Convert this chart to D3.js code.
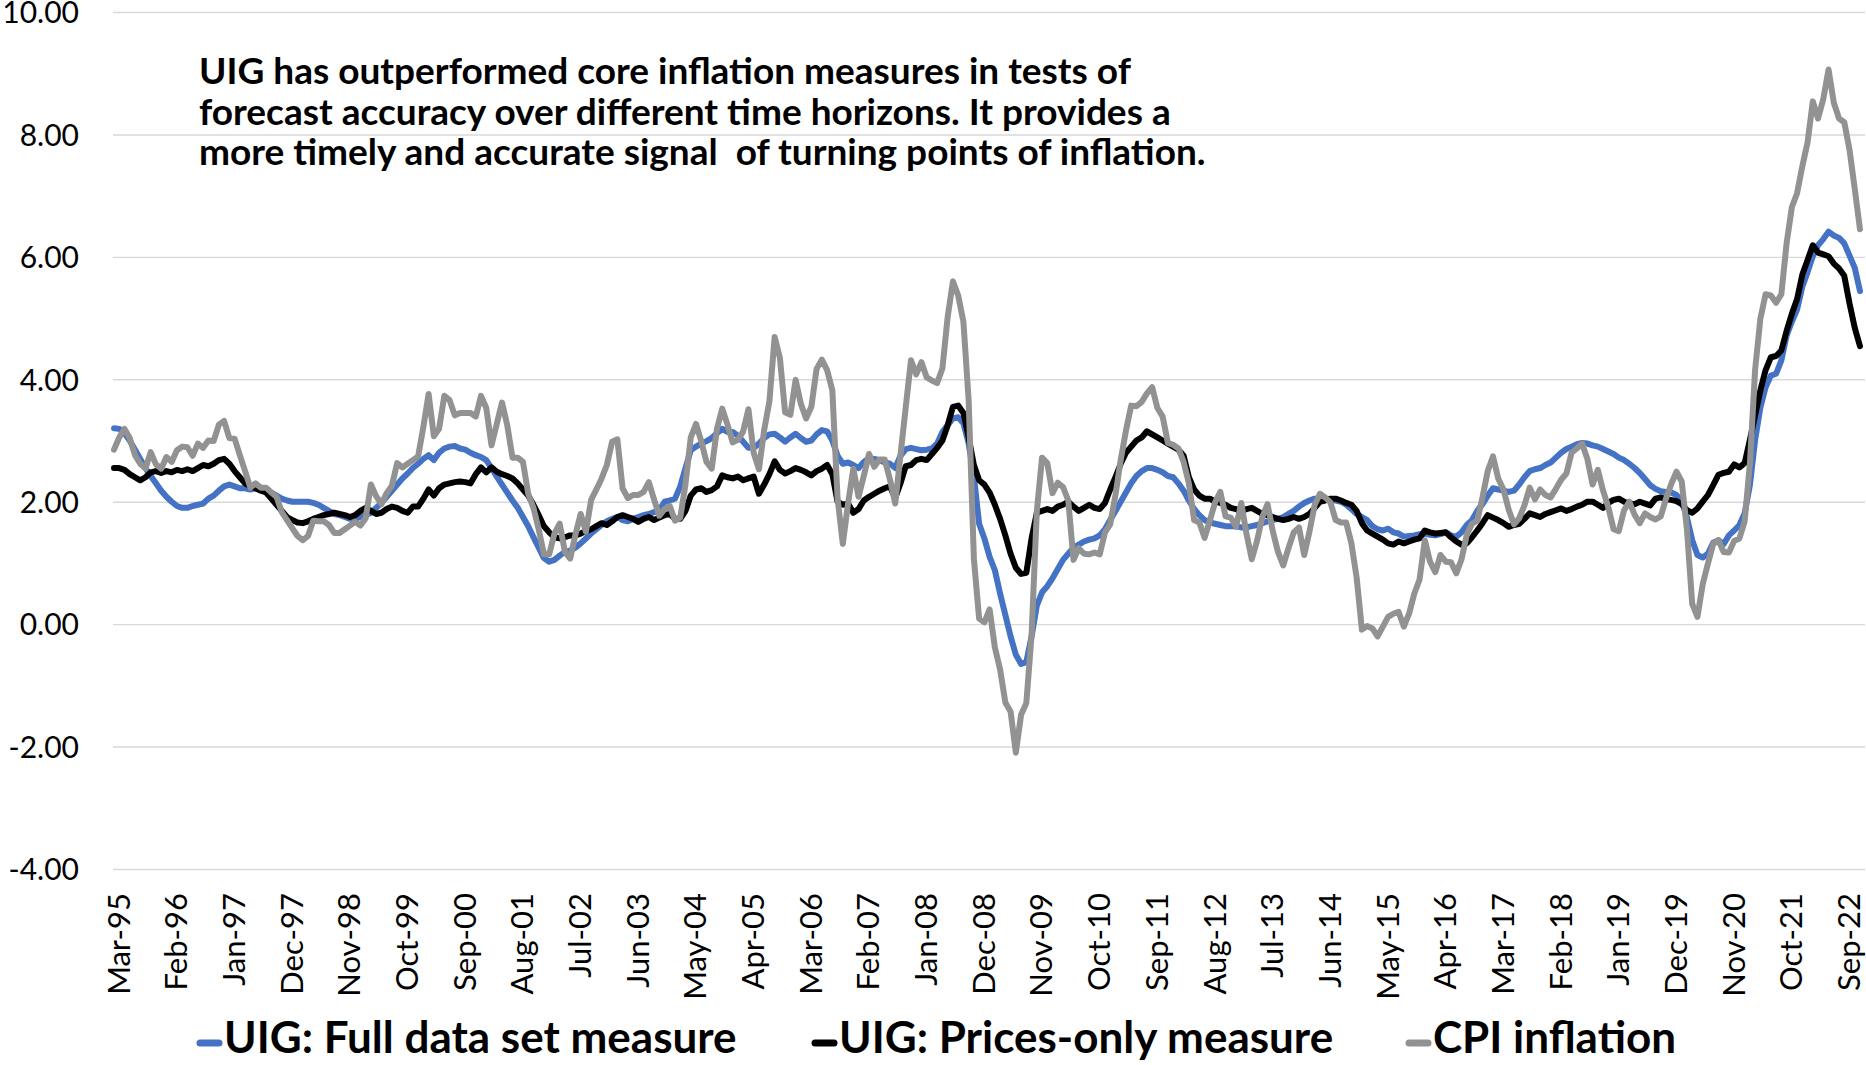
<!DOCTYPE html>
<html>
  <head>
    <meta charset="utf-8">
    <title>UIG vs CPI inflation</title>
    <style media="screen">
      body {
        margin: 0;
        background: #fff;
      }
      text {
        font-family: Lato, 'Open Sans', sans-serif;
      }
    </style>
    <script src="https://cdnjs.cloudflare.com/ajax/libs/d3/7.8.5/d3.min.js"></script>
  </head>
  <body>
    <div id="chart"></div>
  <script type="text/javascript">
  // monthly, Mar-95 .. Dec-22 (one row per calendar year)
  var uigFull = [
    3.20, 3.19, 3.12, 3.00, 2.85, 2.70, 2.55, 2.42, 2.30, 2.18,
    2.08, 2.00, 1.93, 1.90, 1.90, 1.93, 1.95, 1.97, 2.05, 2.10, 2.18, 2.25,
    2.28, 2.25, 2.22, 2.22, 2.20, 2.22, 2.20, 2.18, 2.15, 2.10, 2.05, 2.02,
    2.00, 2.00, 2.00, 2.00, 1.98, 1.95, 1.90, 1.85, 1.80, 1.78, 1.75, 1.72,
    1.72, 1.75, 1.78, 1.82, 1.90, 1.98, 2.08, 2.18, 2.28, 2.38, 2.46, 2.55,
    2.62, 2.70, 2.76, 2.68, 2.80, 2.87, 2.90, 2.91, 2.87, 2.85, 2.80, 2.76,
    2.73, 2.68, 2.55, 2.41, 2.28, 2.15, 2.02, 1.90, 1.75, 1.60, 1.42, 1.25,
    1.08, 1.02, 1.05, 1.12, 1.18, 1.20, 1.25, 1.32, 1.40, 1.48, 1.55, 1.62,
    1.68, 1.72, 1.75, 1.70, 1.68, 1.72, 1.75, 1.78, 1.80, 1.83, 1.86, 2.00,
    2.02, 2.05, 2.25, 2.55, 2.84, 2.90, 2.95, 2.99, 3.04, 3.12, 3.19, 3.14,
    3.14, 3.08, 2.98, 2.88, 2.88, 2.95, 3.04, 3.10, 3.11, 3.05, 2.98, 3.05,
    3.11, 3.04, 2.98, 3.00, 3.10, 3.17, 3.15, 3.00, 2.75, 2.62, 2.64, 2.60,
    2.55, 2.65, 2.71, 2.70, 2.68, 2.64, 2.62, 2.55, 2.75, 2.86, 2.88, 2.86,
    2.84, 2.85, 2.87, 2.95, 3.14, 3.25, 3.36, 3.38, 3.28, 2.95, 2.41, 1.64,
    1.40, 1.10, 0.88, 0.50, 0.15, -0.20, -0.50, -0.65, -0.62, -0.20, 0.30, 0.52,
    0.62, 0.75, 0.90, 1.05, 1.15, 1.25, 1.30, 1.35, 1.38, 1.40, 1.45, 1.55,
    1.70, 1.85, 2.00, 2.15, 2.30, 2.42, 2.50, 2.55, 2.55, 2.52, 2.48, 2.42,
    2.40, 2.30, 2.18, 2.02, 1.88, 1.78, 1.70, 1.66, 1.64, 1.62, 1.60, 1.60,
    1.60, 1.58, 1.58, 1.60, 1.62, 1.65, 1.68, 1.70, 1.72, 1.75, 1.80, 1.85,
    1.92, 1.98, 2.02, 2.05, 2.05, 2.05, 2.03, 2.02, 2.00, 1.95, 1.88, 1.80,
    1.75, 1.70, 1.60, 1.55, 1.53, 1.56, 1.50, 1.48, 1.43, 1.44, 1.45, 1.47,
    1.48, 1.46, 1.45, 1.47, 1.50, 1.45, 1.43, 1.50, 1.62, 1.70, 1.85, 1.96,
    2.10, 2.22, 2.20, 2.18, 2.16, 2.18, 2.28, 2.40, 2.50, 2.53, 2.55, 2.60,
    2.64, 2.72, 2.80, 2.86, 2.90, 2.94, 2.96, 2.95, 2.92, 2.90, 2.86, 2.82,
    2.78, 2.72, 2.68, 2.62, 2.55, 2.47, 2.37, 2.27, 2.21, 2.17, 2.16, 2.15,
    2.11, 2.01, 1.74, 1.37, 1.13, 1.09, 1.15, 1.33, 1.37, 1.31, 1.45, 1.53,
    1.62, 1.81, 2.27, 3.01, 3.54, 3.87, 4.06, 4.09, 4.31, 4.71, 4.94, 5.14,
    5.51, 5.75, 6.01, 6.19, 6.29, 6.41, 6.35, 6.31, 6.22, 6.02, 5.82, 5.44
  ];
  var uigPrices = [
    2.55, 2.55, 2.52, 2.45, 2.40, 2.35, 2.40, 2.48, 2.50, 2.47,
    2.50, 2.48, 2.52, 2.50, 2.53, 2.50, 2.55, 2.60, 2.58, 2.62, 2.68, 2.70,
    2.62, 2.50, 2.40, 2.30, 2.25, 2.22, 2.18, 2.15, 2.05, 1.95, 1.85, 1.75,
    1.70, 1.66, 1.65, 1.68, 1.72, 1.75, 1.78, 1.80, 1.82, 1.80, 1.78, 1.75,
    1.78, 1.85, 1.90, 1.85, 1.80, 1.82, 1.88, 1.92, 1.90, 1.85, 1.82, 1.92,
    1.92, 2.05, 2.20, 2.10, 2.22, 2.28, 2.30, 2.32, 2.33, 2.32, 2.30, 2.45,
    2.56, 2.48, 2.56, 2.49, 2.45, 2.42, 2.38, 2.30, 2.20, 2.10, 1.95, 1.78,
    1.60, 1.50, 1.42, 1.40, 1.42, 1.45, 1.45, 1.48, 1.52, 1.55, 1.60, 1.65,
    1.62, 1.68, 1.75, 1.78, 1.75, 1.72, 1.67, 1.72, 1.75, 1.70, 1.74, 1.78,
    1.80, 1.72, 1.72, 1.85, 2.10, 2.20, 2.22, 2.16, 2.19, 2.25, 2.43, 2.40,
    2.38, 2.41, 2.35, 2.38, 2.41, 2.13, 2.28, 2.45, 2.66, 2.52, 2.46, 2.50,
    2.55, 2.52, 2.48, 2.43, 2.50, 2.54, 2.60, 2.45, 2.00, 1.95, 1.97, 1.82,
    1.88, 2.02, 2.08, 2.13, 2.18, 2.22, 2.25, 2.06, 2.30, 2.58, 2.60, 2.68,
    2.70, 2.68, 2.78, 2.88, 3.00, 3.25, 3.55, 3.57, 3.45, 3.05, 2.60, 2.35,
    2.28, 2.15, 1.95, 1.72, 1.45, 1.15, 0.92, 0.82, 0.84, 1.40, 1.82, 1.85,
    1.88, 1.85, 1.92, 1.95, 2.00, 1.92, 1.85, 1.90, 1.95, 1.90, 1.88, 1.98,
    2.20, 2.40, 2.62, 2.80, 2.90, 3.00, 3.05, 3.15, 3.10, 3.05, 3.00, 2.95,
    2.90, 2.85, 2.75, 2.40, 2.20, 2.10, 2.05, 2.05, 2.00, 1.98, 1.95, 1.90,
    1.88, 1.85, 1.88, 1.90, 1.85, 1.80, 1.78, 1.75, 1.72, 1.70, 1.72, 1.75,
    1.72, 1.75, 1.80, 1.90, 2.00, 2.02, 2.05, 2.05, 2.02, 1.98, 1.95, 1.85,
    1.65, 1.53, 1.48, 1.43, 1.38, 1.32, 1.30, 1.35, 1.32, 1.35, 1.38, 1.40,
    1.53, 1.50, 1.48, 1.49, 1.50, 1.42, 1.35, 1.30, 1.32, 1.42, 1.53, 1.65,
    1.78, 1.74, 1.70, 1.65, 1.59, 1.62, 1.64, 1.72, 1.81, 1.78, 1.75, 1.80,
    1.83, 1.86, 1.89, 1.85, 1.88, 1.92, 1.95, 2.00, 2.00, 1.95, 1.90, 1.98,
    2.03, 2.05, 2.00, 1.97, 1.96, 2.00, 1.97, 1.94, 2.05, 2.07, 2.04, 2.03,
    2.01, 1.96, 1.86, 1.82, 1.89, 2.00, 2.11, 2.27, 2.44, 2.47, 2.49, 2.61,
    2.56, 2.63, 3.01, 3.41, 3.82, 4.15, 4.36, 4.38, 4.47, 4.79, 5.07, 5.31,
    5.71, 5.95, 6.19, 6.07, 6.04, 6.01, 5.89, 5.81, 5.69, 5.24, 4.84, 4.54
  ];
  var cpiInflation = [
    2.85, 3.05, 3.19, 3.04, 2.76, 2.62, 2.54, 2.81, 2.61, 2.54,
    2.73, 2.65, 2.84, 2.90, 2.89, 2.75, 2.95, 2.88, 3.00, 2.99, 3.26, 3.32,
    3.04, 3.03, 2.76, 2.50, 2.23, 2.30, 2.23, 2.23, 2.15, 2.08, 1.83, 1.70,
    1.57, 1.44, 1.37, 1.44, 1.69, 1.68, 1.68, 1.62, 1.49, 1.49, 1.55, 1.61,
    1.67, 1.61, 1.73, 2.28, 2.09, 1.96, 2.14, 2.26, 2.63, 2.56, 2.62, 2.68,
    2.74, 3.22, 3.76, 3.07, 3.19, 3.73, 3.66, 3.41, 3.45, 3.45, 3.45, 3.39,
    3.73, 3.53, 2.92, 3.27, 3.62, 3.25, 2.72, 2.72, 2.65, 2.13, 1.90, 1.55,
    1.14, 1.14, 1.48, 1.64, 1.18, 1.07, 1.46, 1.80, 1.51, 2.03, 2.20, 2.38,
    2.60, 2.98, 3.02, 2.22, 2.06, 2.11, 2.11, 2.16, 2.32, 2.04, 1.77, 1.88,
    1.93, 1.69, 1.74, 2.29, 3.05, 3.27, 2.99, 2.65, 2.54, 3.19, 3.52, 3.26,
    2.97, 3.01, 3.15, 3.51, 2.80, 2.53, 3.17, 3.64, 4.69, 4.35, 3.46, 3.42,
    3.99, 3.60, 3.36, 3.55, 4.17, 4.32, 4.15, 3.82, 2.06, 1.31, 1.97, 2.54,
    2.08, 2.42, 2.78, 2.57, 2.69, 2.69, 2.36, 1.97, 2.76, 3.54, 4.31, 4.08,
    4.28, 4.03, 3.98, 3.94, 4.18, 5.02, 5.60, 5.37, 4.94, 3.66, 1.07, 0.09,
    0.03, 0.24, -0.38, -0.74, -1.28, -1.43, -2.10, -1.48, -1.29, -0.18, 1.84, 2.72,
    2.63, 2.14, 2.31, 2.24, 2.02, 1.05, 1.24, 1.15, 1.14, 1.17, 1.14, 1.50,
    1.63, 2.11, 2.68, 3.16, 3.57, 3.56, 3.63, 3.77, 3.87, 3.53, 3.39, 2.96,
    2.93, 2.87, 2.65, 2.30, 1.70, 1.66, 1.41, 1.69, 1.99, 2.16, 1.76, 1.74,
    1.59, 1.98, 1.47, 1.06, 1.36, 1.75, 1.96, 1.52, 1.18, 0.96, 1.24, 1.50,
    1.58, 1.13, 1.51, 1.95, 2.13, 2.07, 1.99, 1.70, 1.66, 1.66, 1.32, 0.76,
    -0.09, -0.03, -0.07, -0.20, -0.04, 0.12, 0.17, 0.20, -0.04, 0.17, 0.50, 0.73,
    1.37, 1.02, 0.85, 1.13, 1.02, 1.01, 0.83, 1.06, 1.46, 1.64, 1.69, 2.07,
    2.50, 2.74, 2.38, 2.20, 1.87, 1.63, 1.73, 1.94, 2.23, 2.04, 2.20, 2.11,
    2.07, 2.21, 2.36, 2.46, 2.80, 2.87, 2.95, 2.70, 2.28, 2.52, 2.18, 1.91,
    1.55, 1.52, 1.86, 2.00, 1.79, 1.65, 1.81, 1.75, 1.71, 1.76, 2.05, 2.29,
    2.49, 2.33, 1.54, 0.33, 0.12, 0.65, 0.99, 1.31, 1.37, 1.18, 1.17, 1.36,
    1.40, 1.68, 2.62, 4.16, 4.99, 5.39, 5.37, 5.25, 5.39, 6.22, 6.81, 7.04,
    7.48, 7.87, 8.54, 8.26, 8.58, 9.06, 8.52, 8.26, 8.20, 7.75, 7.11, 6.45
  ];
  var tickLabels = ['Mar-95','Feb-96','Jan-97','Dec-97','Nov-98','Oct-99','Sep-00','Aug-01',
    'Jul-02','Jun-03','May-04','Apr-05','Mar-06','Feb-07','Jan-08','Dec-08','Nov-09','Oct-10',
    'Sep-11','Aug-12','Jul-13','Jun-14','May-15','Apr-16','Mar-17','Feb-18','Jan-19','Dec-19',
    'Nov-20','Oct-21','Sep-22'];
  var yTicks = [-4, -2, 0, 2, 4, 6, 8, 10];
  var seriesNames = ['UIG: Full data set measure', 'UIG: Prices-only measure', 'CPI inflation'];
  var noteLines = [
    'UIG has outperformed core inflation measures in tests of',
    'forecast accuracy over different time horizons. It provides a',
    'more timely and accurate signal  of turning points of inflation.'
  ];

  var colors = ['#4472c4', '#000000', '#929292'];
  var W = 1866, H = 1065;
  var plotLeft = 113, plotRight = 1865, plotTop = 12, plotBottom = 869;

  var fmt = d3.timeFormat('%b-%y');
  var months = d3.timeMonth.range(new Date(1995, 2, 1), new Date(2023, 0, 1)).map(fmt);

  var svg = d3.select('#chart').append('svg').attr('width', W).attr('height', H);

  var x = d3.scalePoint().domain(months).range([114, 1860]);
  var y = d3.scaleLinear().domain([-4, 10]).range([plotBottom, plotTop]);

  // gridlines
  let grid = svg.append('g').attr('transform', 'translate(' + plotLeft + ',0)')
    .call(d3.axisLeft(y).tickValues(yTicks).tickSize(-(plotRight - plotLeft)).tickFormat(''));
  grid.select('.domain').remove();
  grid.selectAll('line').style('stroke', '#d9d9d9').style('stroke-width', 1.4);

  // y labels (plain hyphen for negatives, as in the original)
  let ya = svg.append('g').attr('transform', 'translate(79,0)')
    .call(d3.axisLeft(y).tickValues(yTicks).tickSize(0).tickPadding(0).tickFormat(d => d.toFixed(2)));
  ya.select('.domain').remove();
  ya.selectAll('text').style('font-size', '30px').style('fill', '#000').attr('dy', '0.36em');

  // x labels
  let xa = svg.append('g').attr('transform', 'translate(0,893)')
    .call(d3.axisBottom(x).tickValues(tickLabels).tickSize(0));
  xa.select('.domain').remove();
  xa.selectAll('text')
    .attr('transform', 'rotate(-90)')
    .attr('text-anchor', 'end')
    .attr('x', 0)
    .attr('y', 4)
    .attr('dy', '0.36em')
    .style('font-size', '31px')
    .style('fill', '#000');

  // series
  let line = d3.line().x((d, i) => x(months[i])).y(d => y(d));
  [uigFull, uigPrices, cpiInflation].forEach((s, k) => {
    svg.append('path').datum(s)
      .attr('d', line)
      .style('fill', 'none')
      .style('stroke', colors[k])
      .style('stroke-width', 6)
      .style('stroke-linejoin', 'round')
      .style('stroke-linecap', 'round');
  });

  // note
  let note = svg.append('text').attr('x', 199).attr('y', 84)
    .attr('xml:space', 'preserve')
    .style('font-size', '37px').style('font-weight', 'bold').style('fill', '#000');
  noteLines.forEach((t, i) => {
    note.append('tspan').attr('x', 199).attr('dy', i == 0 ? 0 : 40.5)
      .style('white-space', 'pre').text(t);
  });

  // legend
  let legX = [224, 839, 1433];
  let leg = svg.append('g');
  seriesNames.forEach((n, i) => {
    leg.append('line')
      .attr('x1', legX[i] - 24).attr('x2', legX[i] - 5)
      .attr('y1', 1043).attr('y2', 1043)
      .style('stroke', colors[i]).style('stroke-width', 7).style('stroke-linecap', 'round');
    leg.append('text').attr('x', legX[i]).attr('y', 1053)
      .style('font-size', '44px').style('font-weight', 'bold').style('fill', '#000')
      .text(n);
  });
  </script>
  </body>
</html>
